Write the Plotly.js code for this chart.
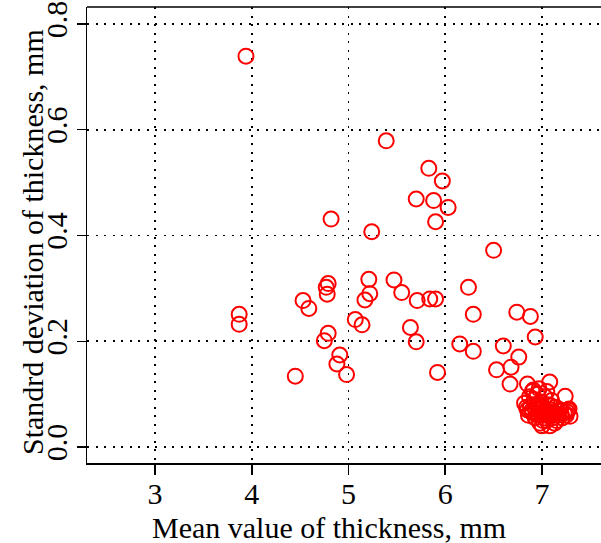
<!DOCTYPE html>
<html>
<head>
<meta charset="utf-8">
<script src="https://cdn.plot.ly/plotly-3.0.1.min.js"></script>
<style>
  html, body { margin: 0; padding: 0; background: #fff; overflow: hidden; }
  #chart { width: 601px; height: 543px; }
</style>
</head>
<body>
<div id="chart"></div>
<script>
// Mean thickness (mm) and its standard deviation (mm) per sample
const meanThickness = [
  3.94, 5.39, 5.83, 5.97, 5.70, 5.88, 6.03, 5.90, 4.82, 5.24,
  6.50, 6.24, 4.79, 4.77, 4.78, 4.53, 4.59, 3.87, 3.87, 5.21,
  5.22, 5.17, 5.47, 5.55, 5.71, 5.84, 5.90, 6.29, 5.07, 5.14,
  5.64, 5.70, 4.79, 4.75, 4.91, 4.88, 4.98, 4.45, 5.92, 6.15,
  6.29, 6.60, 6.53, 6.68, 6.76, 6.67, 6.85, 7.08, 6.91, 7.24,
  6.74, 6.88, 6.93,
  6.82, 6.85, 6.86, 6.88, 6.90, 6.92, 6.93, 6.94, 6.95, 6.96,
  6.97, 6.98, 6.99, 7.00, 7.01, 7.02, 7.03, 7.04, 7.05, 7.06,
  7.07, 7.08, 7.09, 7.10, 7.11, 7.12, 7.14, 7.15, 7.17, 7.19,
  7.21, 7.23, 7.25, 7.27, 7.29, 7.28, 6.90, 6.97, 7.05, 6.87,
  7.00, 7.13, 6.95, 7.02, 7.08, 6.99, 7.06, 6.93, 7.11, 7.16,
  6.89, 7.04, 6.96, 7.20, 7.01, 7.09, 6.84, 7.26
];
const sdThickness = [
  0.739, 0.579, 0.527, 0.503, 0.469, 0.466, 0.453, 0.426, 0.431, 0.407,
  0.372, 0.302, 0.309, 0.302, 0.289, 0.277, 0.262, 0.251, 0.232, 0.317,
  0.290, 0.278, 0.316, 0.292, 0.277, 0.280, 0.280, 0.251, 0.241, 0.231,
  0.226, 0.199, 0.215, 0.201, 0.174, 0.157, 0.137, 0.134, 0.141, 0.195,
  0.181, 0.191, 0.146, 0.151, 0.170, 0.119, 0.119, 0.123, 0.108, 0.096,
  0.255, 0.247, 0.208,
  0.083, 0.070, 0.060, 0.075, 0.065, 0.090, 0.055, 0.080, 0.100, 0.070,
  0.060, 0.045, 0.085, 0.065, 0.075, 0.055, 0.095, 0.070, 0.050, 0.080,
  0.060, 0.040, 0.070, 0.088, 0.055, 0.065, 0.075, 0.050, 0.060, 0.070,
  0.055, 0.065, 0.060, 0.070, 0.058, 0.072, 0.105, 0.110, 0.105, 0.095,
  0.040, 0.045, 0.062, 0.068, 0.058, 0.075, 0.066, 0.072, 0.062, 0.068,
  0.068, 0.060, 0.078, 0.062, 0.050, 0.078, 0.075, 0.066
];

const xTicks = [3, 4, 5, 6, 7];
const yTicks = [0.0, 0.2, 0.4, 0.6, 0.8];
const yTickText = ['0.0', '0.2', '0.4', '0.6', '0.8'];
const xTitle = 'Mean value of thickness, mm';
const yTitle = 'Standrd deviation of thickness, mm';

const serif = 'Liberation Serif, Times New Roman, serif';
const gridDash = '2px,6.5px';
const fontSize = 30;

const trace = {
  type: 'scatter',
  mode: 'markers',
  x: meanThickness,
  y: sdThickness,
  marker: {
    symbol: 'circle-open',
    size: 15,
    color: '#ff0000',
    line: { color: '#ff0000', width: 2 }
  },
  hoverinfo: 'x+y'
};

const layout = {
  width: 601,
  height: 543,
  margin: { l: 87, r: 0, t: 7, b: 80, pad: 0 },
  paper_bgcolor: '#ffffff',
  plot_bgcolor: '#ffffff',
  showlegend: false,
  font: { family: serif, size: fontSize, color: '#000' },
  xaxis: {
    range: [2.297, 7.61],
    tickmode: 'array',
    tickvals: xTicks,
    ticktext: xTicks.map(String),
    ticks: 'outside',
    ticklen: 10,
    tickwidth: 1.5,
    tickcolor: '#000',
    showline: true,
    linecolor: '#000',
    linewidth: 1.5,
    showgrid: true,
    gridcolor: '#000',
    gridwidth: 1.8,
    griddash: gridDash,
    zeroline: false,
    tickfont: { family: serif, size: fontSize, color: '#000' },
    ticklabelstandoff: -7
  },
  yaxis: {
    range: [-0.0302, 0.832],
    tickmode: 'array',
    tickvals: yTicks,
    ticktext: yTickText,
    tickangle: -90,
    ticks: 'outside',
    ticklen: 9,
    tickwidth: 1.5,
    tickcolor: '#000',
    showline: true,
    linecolor: '#000',
    linewidth: 1.5,
    showgrid: true,
    gridcolor: '#000',
    gridwidth: 1.8,
    griddash: gridDash,
    zeroline: false,
    tickfont: { family: serif, size: fontSize, color: '#000' },
    ticklabelstandoff: -2
  },
  shapes: [
    { type: 'line', xref: 'paper', yref: 'paper', x0: 0, x1: 1, y0: 1, y1: 1,
      line: { color: '#000', width: 1.5 } }
  ],
  annotations: [
    { text: xTitle, xref: 'paper', yref: 'paper',
      x: (329 - 87) / 514, y: -(527 - 463) / 456,
      xanchor: 'center', yanchor: 'middle', showarrow: false,
      font: { family: serif, size: fontSize, color: '#000' } },
    { text: yTitle, xref: 'paper', yref: 'paper', textangle: -90,
      x: -(87 - 32) / 514, y: (463 - 242) / 456,
      xanchor: 'center', yanchor: 'middle', showarrow: false,
      font: { family: serif, size: fontSize, color: '#000' } }
  ]
};

Plotly.newPlot('chart', [trace], layout, { displayModeBar: false, staticPlot: true });
</script>
</body>
</html>
